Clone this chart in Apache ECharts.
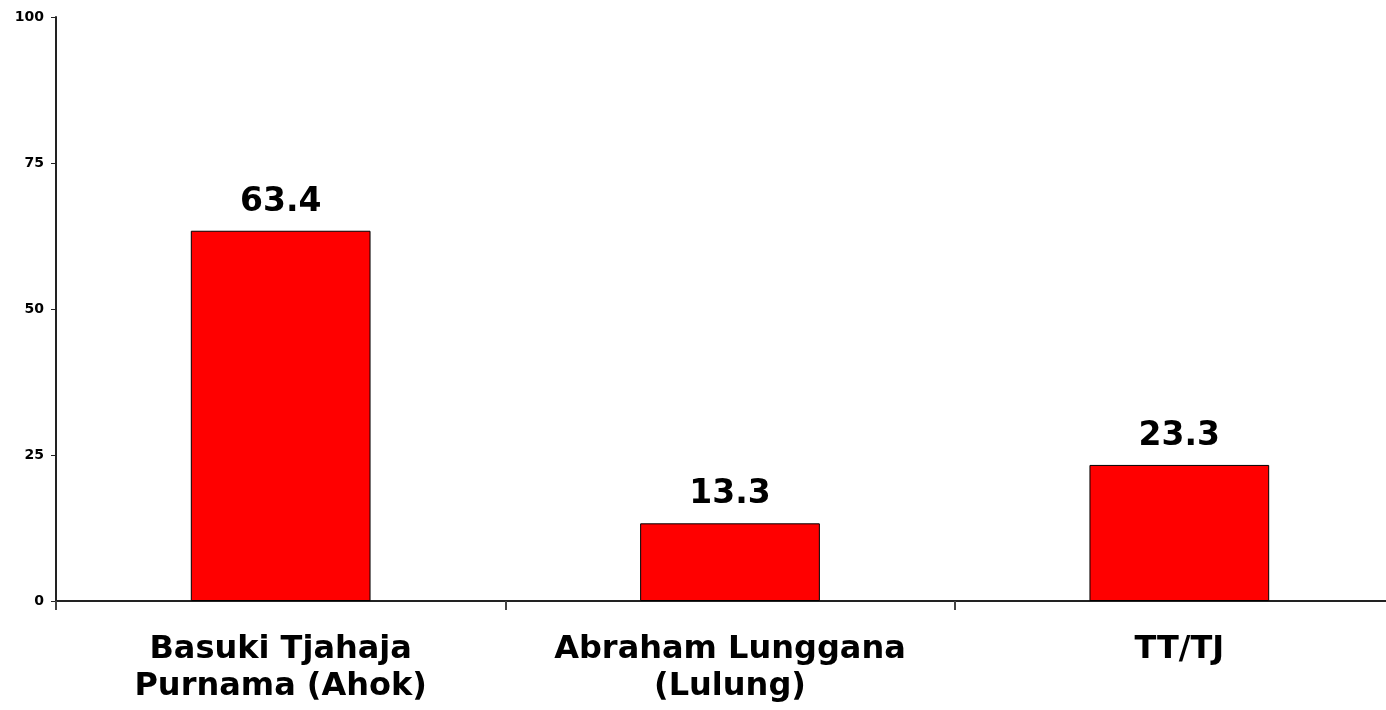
<!DOCTYPE html>
<html>
<head>
<meta charset="utf-8">
<script src="https://cdn.jsdelivr.net/npm/echarts@6/dist/echarts.min.js"></script>
<style>
  html, body { margin: 0; padding: 0; background: #fff; overflow: hidden; }
  /* wider than the window: the category axis runs past the right edge */
  #chart { width: 1404px; height: 710px; }
</style>
</head>
<body>
<div id="chart"></div>
<script>
const categories = ['Basuki Tjahaja\nPurnama (Ahok)', 'Abraham Lunggana\n(Lulung)', 'TT/TJ'];
const values = [63.4, 13.3, 23.3];
const yTicks = [0, 25, 50, 75, 100];

const chart = echarts.init(document.getElementById('chart'));

chart.setOption({
    animation: false,
    textStyle: { fontFamily: 'DejaVu Sans', fontWeight: 'bold' },
    grid: { left: 56, right: 0, top: 17, bottom: 109, containLabel: false },
    xAxis: {
        type: 'category',
        data: categories,
        axisLine: { lineStyle: { color: '#222', width: 2 } },
        axisTick: { show: true, length: 9, lineStyle: { color: '#444', width: 2 } },
        axisLabel: {
            interval: 0,
            fontSize: 32,
            fontWeight: 'bold',
            color: '#000',
            lineHeight: 37,
            margin: 30,
            fontFamily: 'DejaVu Sans'
        }
    },
    yAxis: {
        type: 'value',
        min: yTicks[0],
        max: yTicks[yTicks.length - 1],
        interval: 25,
        splitLine: { show: false },
        axisLine: { show: true, lineStyle: { color: '#222', width: 2 } },
        axisTick: { show: true, length: 5, lineStyle: { color: '#222', width: 1 } },
        axisLabel: {
            fontSize: 14,
            fontWeight: 'bold',
            color: '#000',
            margin: 12,
            fontFamily: 'DejaVu Sans'
        }
    },
    series: [{
        type: 'bar',
        data: values,
        barWidth: '40%',
        itemStyle: { color: '#ff0000', borderColor: '#000', borderWidth: 1 },
        label: {
            show: true,
            position: 'top',
            distance: 12,
            fontSize: 33,
            fontWeight: 'bold',
            color: '#000',
            fontFamily: 'DejaVu Sans',
            formatter: (p) => p.value.toFixed(1)
        }
    }]
});
</script>
</body>
</html>
